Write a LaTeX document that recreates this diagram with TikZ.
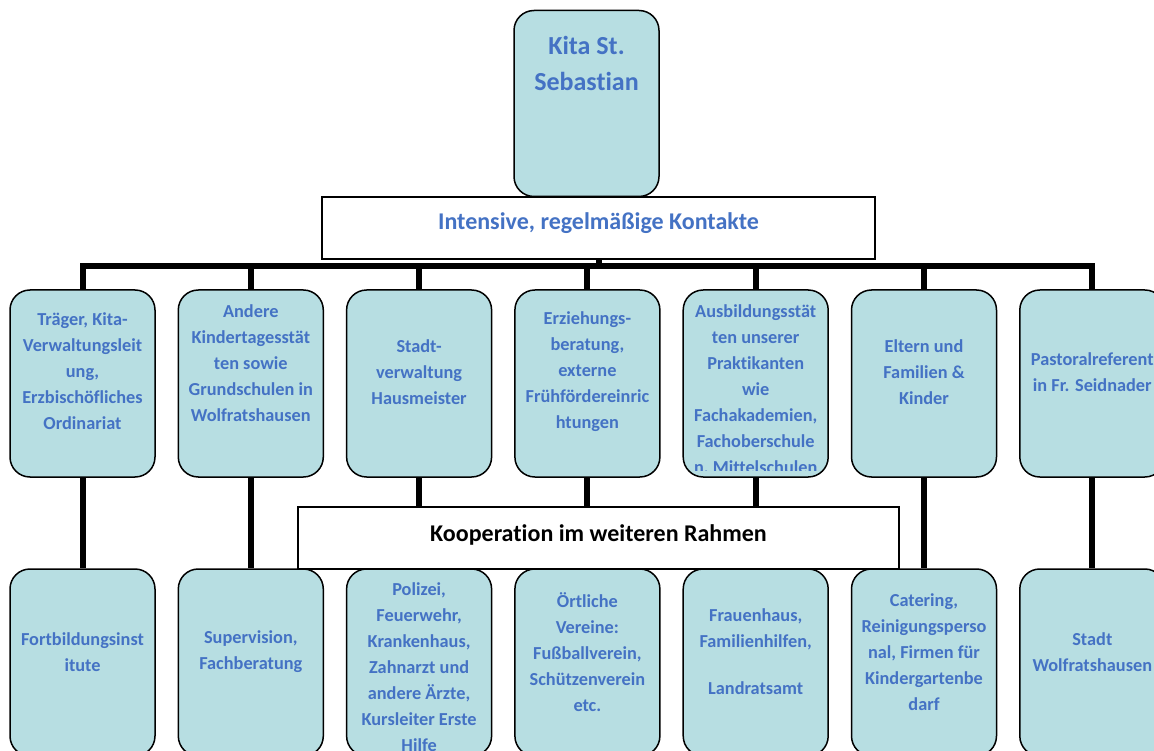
\documentclass[tikz,border=0pt]{standalone}
\usepackage{fontspec}
\setmainfont{Carlito}[Ligatures=NoCommon]
\definecolor{boxfill}{RGB}{183,222,226}
\definecolor{txtblue}{RGB}{68,114,196}
\begin{document}
\begin{tikzpicture}[x=1pt,y=-1pt,
  card/.style={draw=black, line width=1.5pt, fill=boxfill, rounded corners=20pt, minimum width=145pt, minimum height=187pt, inner sep=0pt},
  cardtext/.style={text=txtblue, font=\fontsize{18.3}{26}\selectfont\bfseries, align=center, inner sep=0pt},
  conn/.style={line width=6pt},
  band/.style={draw=black, line width=1.5pt, fill=white, inner sep=0pt},
  bandtext/.style={font=\fontsize{24}{30}\selectfont\bfseries, inner sep=0pt}
]
\clip (0,0) rectangle (1154,751);
\fill[white] (0,0) rectangle (1154,751);

% top box and band
\node[card, minimum height=186pt] (kita) at (586.5,103.5) {};
\node[cardtext, font=\fontsize{26}{36}\selectfont\bfseries] (kitat) at (586.5,63) {Kita St.\\Sebastian};
\node[band, minimum width=553pt, minimum height=62pt] (ib) at (598.5,228) {};
\node[bandtext, text=txtblue] (ibt) at (598.5,223.5) {Intensive, regelmäßige Kontakte};

% cards
\foreach \i/\x in {1/82.5,2/250.8,3/419.1,4/587.4,5/755.7,6/924,7/1092.3}{
  \node[card] (t\i) at (\x,383.5) {};
  \node[card] (b\i) at (\x,662.5) {};
}

% connectors
\coordinate (bar) at (586.5,266);
\draw[conn] (t1.north) -- (t1.north |- bar) -- (t7.north |- bar) -- (t7.north);
\foreach \i in {2,...,6} \draw[conn] (t\i.north) -- (t\i.north |- bar);
\draw[conn] (ib.south) -- (ib.south |- bar);
\foreach \i in {1,...,7} \draw[conn] (t\i.south) -- (b\i.north);

% second band
\node[band, minimum width=601pt, minimum height=62pt] (kb) at (598.5,538) {};
\node[bandtext, text=black] (kbt) at (598.5,534.5) {Kooperation im weiteren Rahmen};

% top row texts
\node[cardtext] (tt1) at (82.5,371) {Träger, Kita-\\Verwaltungsleit\\ung,\\Erzbischöfliches\\Ordinariat};
\node[cardtext] (tt2) at (250.8,363.5) {Andere\\Kindertagesstät\\ten sowie\\Grundschulen in\\Wolfratshausen};
\node[cardtext] (tt3) at (419.1,372.5) {Stadt-\\verwaltung\\Hausmeister};
\node[cardtext] (tt4) at (587.4,371.5) {Erziehungs-\\beratung,\\externe\\Frühfördereinric\\htungen};
\begin{scope}
\clip ([shift={(3pt,7pt)}]t5.south west) rectangle ([shift={(-3pt,-3pt)}]t5.north east);
\node[cardtext] (tt5) at (755.7,390) {Ausbildungsstät\\ten unserer\\Praktikanten\\wie\\Fachakademien,\\Fachoberschule\\n, Mittelschulen};
\end{scope}
\node[cardtext] (tt6) at (924,372.5) {Eltern und\\Familien \&\\Kinder};
\node[cardtext] (tt7) at (1092.3,372.5) {Pastoralreferent\\in Fr. Seidnader};

% bottom row texts
\node[cardtext] (bt1) at (82.5,652) {Fortbildungsinst\\itute};
\node[cardtext] (bt2) at (250.8,652) {Supervision,\\Fachberatung};
\node[cardtext] (bt3) at (419.1,667) {Polizei,\\Feuerwehr,\\Krankenhaus,\\Zahnarzt und\\andere Ärzte,\\Kursleiter Erste\\Hilfe};
\node[cardtext] (bt4) at (587.4,652) {Örtliche\\Vereine:\\Fußballverein,\\Schützenverein\\etc.};
\node[cardtext] (bt5) at (755.7,651.5) {Frauenhaus,\\Familienhilfen,\\[21pt]Landratsamt};
\node[cardtext] (bt6) at (924,652) {Catering,\\Reinigungsperso\\nal, Firmen für\\Kindergartenbe\\darf};
\node[cardtext] (bt7) at (1092.3,652) {Stadt\\Wolfratshausen};
\end{tikzpicture}
\end{document}
